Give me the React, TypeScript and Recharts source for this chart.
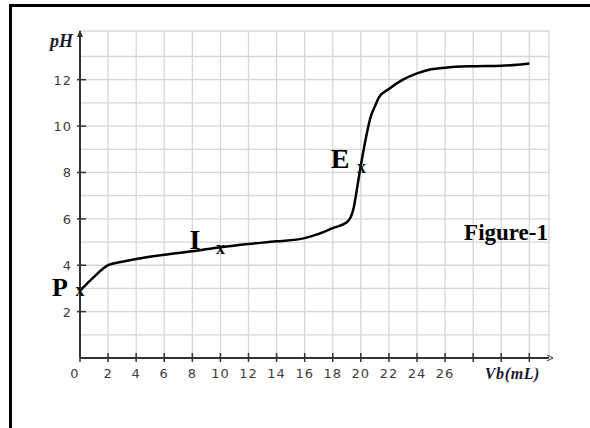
import {
  ComposedChart,
  Line,
  Scatter,
  XAxis,
  YAxis,
  ReferenceLine,
  ReferenceDot,
  Label,
} from 'recharts';

// titration curve: volume of base (mL) vs pH
const volume = [0, 1, 2, 3, 4, 6, 8, 10, 12, 14, 16, 17, 18, 19, 19.3, 19.5, 19.7, 19.9, 20.1, 20.3, 20.5, 20.7, 21, 21.3, 22, 23, 24, 25, 26, 28, 30, 32];
const ph = [2.9, 3.5, 4.0, 4.15, 4.27, 4.45, 4.6, 4.78, 4.92, 5.03, 5.17, 5.35, 5.6, 5.85, 6.1, 6.5, 7.2, 7.95, 8.65, 9.3, 9.9, 10.4, 10.85, 11.25, 11.6, 12.0, 12.27, 12.45, 12.52, 12.58, 12.6, 12.7];

const pointNames = ['P', 'I', 'E'];
const pointX = [0, 10, 20.05];
const pointY = [2.9, 4.72, 8.2];

const xTicks = [0, 2, 4, 6, 8, 10, 12, 14, 16, 18, 20, 22, 24, 26, 28, 30, 32];
const yTicks = [2, 4, 6, 8, 10, 12];
const xGrid = [2, 4, 6, 8, 10, 12, 14, 16, 18, 20, 22, 24, 26, 28, 30, 32];
const yGrid = [1, 2, 3, 4, 5, 6, 7, 8, 9, 10, 11, 12, 13];
const lastLabelled = 26;

const X_MAX = 33.4;
const Y_MAX = 14.1;

const curve = volume.map((v, i) => ({ v, ph: ph[i] }));
const points = pointNames.map((name, i) => ({ v: pointX[i], ph: pointY[i], name }));

// where each letter sits relative to its cross
const letterOffset: Record<string, { dx: number; dy: number; size: number }> = {
  P: { dx: -12, dy: 5, size: 26 },
  I: { dx: -20, dy: 0, size: 28 },
  E: { dx: -12, dy: 0, size: 28 },
};

const AXIS = '#333';
const GRID = '#d6d6d6';
const TICK_TEXT = '#3c3c3c';

function YTick({ x, y, payload }: any) {
  return (
    <g>
      <line x1={x + 5} x2={x + 14} y1={y} y2={y} stroke={AXIS} strokeWidth={1.5} />
      <text x={x} y={y} dy={5} textAnchor="end" fill={TICK_TEXT} fontFamily="DejaVu Sans" fontSize={13} letterSpacing={1}>
        {payload.value}
      </text>
    </g>
  );
}

function XTick({ x, y, payload }: any) {
  const v = payload.value;
  return (
    <g>
      <line x1={x} x2={x} y1={y - 13} y2={y - 4} stroke={AXIS} strokeWidth={1.5} />
      {v <= lastLabelled && (
        <text x={v === 0 ? x - 5 : x} y={y} dy={12} textAnchor="middle" fill={TICK_TEXT} fontFamily="DejaVu Sans" fontSize={13} letterSpacing={1}>
          {v}
        </text>
      )}
    </g>
  );
}

function Cross(props: any) {
  const { cx, cy, payload } = props;
  const off = letterOffset[payload.name];
  return (
    <g>
      <text x={cx} y={cy} dy={5} textAnchor="middle" fontFamily="Liberation Serif" fontWeight="bold" fontSize={18} fill="#111">
        x
      </text>
      <text x={cx + off.dx} y={cy + off.dy} textAnchor="end" fontFamily="Liberation Serif" fontWeight="bold" fontSize={off.size} fill="#000">
        {payload.name}
      </text>
    </g>
  );
}

function UpArrow({ cx, cy }: any) {
  return <path d={`M${cx - 3},${cy + 6} L${cx},${cy - 1} L${cx + 3},${cy + 6} Z`} fill={AXIS} />;
}

function RightArrow({ cx, cy }: any) {
  return (
    <g>
      <line x1={cx - 6} x2={cx - 2} y1={cy} y2={cy} stroke={AXIS} strokeWidth={1.5} />
      <path d={`M${cx - 2},${cy - 3} L${cx + 4},${cy} L${cx - 2},${cy + 3}`} fill="none" stroke={AXIS} strokeWidth={1} />
    </g>
  );
}

export default function App() {
  return (
    <div style={{ position: 'absolute', left: 0, top: 0, width: 590, height: 428, background: '#fff' }}>
      <div
        style={{
          position: 'absolute',
          left: 9,
          top: 4,
          width: 590,
          height: 430,
          borderTop: '3px solid #000',
          borderLeft: '3px solid #000',
        }}
      />
      <div style={{ position: 'absolute', left: 0, top: 0 }}>
        <ComposedChart width={590} height={428} data={curve} margin={{ top: 31, right: 41, bottom: 40, left: 0 }}>
          {xGrid.map((g) => (
            <ReferenceLine key={'vx' + g} x={g} stroke={GRID} strokeWidth={1.3} />
          ))}
          {yGrid.map((g) => (
            <ReferenceLine key={'hy' + g} y={g} stroke={GRID} strokeWidth={1.3} />
          ))}
          <ReferenceLine x={X_MAX} stroke={GRID} strokeWidth={1.3} />
          <ReferenceLine y={Y_MAX} stroke={GRID} strokeWidth={1.3} />
          <XAxis
            dataKey="v"
            type="number"
            domain={[0, X_MAX]}
            ticks={xTicks}
            height={30}
            tickSize={0}
            tickMargin={8}
            tickLine={false}
            axisLine={{ stroke: AXIS, strokeWidth: 2 }}
            tick={<XTick />}
            interval={0}
          >
            <Label
              content={({ viewBox }: any) => (
                <text
                  x={viewBox.x + viewBox.width - 9}
                  y={viewBox.y + 21}
                  textAnchor="end"
                  fontFamily="Liberation Serif"
                  fontStyle="italic"
                  fontWeight="bold"
                  fontSize={16}
                  letterSpacing={0.6}
                  fill="#1a1a2e"
                >
                  Vb(mL)
                </text>
              )}
            />
          </XAxis>
          <YAxis
            type="number"
            domain={[0, Y_MAX]}
            ticks={yTicks}
            width={80}
            tickSize={0}
            tickMargin={8}
            tickLine={false}
            axisLine={{ stroke: AXIS, strokeWidth: 2 }}
            tick={<YTick />}
            interval={0}
          >
            <Label
              content={({ viewBox }: any) => (
                <text
                  x={viewBox.x + viewBox.width - 7}
                  y={viewBox.y + 16}
                  textAnchor="end"
                  fontFamily="Liberation Serif"
                  fontStyle="italic"
                  fontWeight="bold"
                  fontSize={18}
                  fill="#1a1a2e"
                >
                  pH
                </text>
              )}
            />
          </YAxis>
          <ReferenceDot x={0} y={Y_MAX} r={0} ifOverflow="visible" shape={<UpArrow />} />
          <ReferenceDot x={X_MAX} y={0} r={0} ifOverflow="visible" shape={<RightArrow />} />
          <Line
            type="monotone"
            dataKey="ph"
            stroke="#000"
            strokeWidth={2.5}
            dot={false}
            activeDot={false}
            isAnimationActive={false}
          />
          <Scatter data={points} dataKey="ph" shape={<Cross />} isAnimationActive={false} />
          <ReferenceDot
            x={X_MAX}
            y={6}
            r={0}
            ifOverflow="visible"
            label={{
              value: 'Figure-1',
              position: 'insideBottomRight',
              content: ({ viewBox }: any) => (
                <text
                  x={viewBox.x - 1}
                  y={viewBox.y + 21}
                  textAnchor="end"
                  fontFamily="Liberation Serif"
                  fontWeight="bold"
                  fontSize={23}
                  fill="#000"
                >
                  Figure-1
                </text>
              ),
            }}
          />
        </ComposedChart>
      </div>
    </div>
  );
}
